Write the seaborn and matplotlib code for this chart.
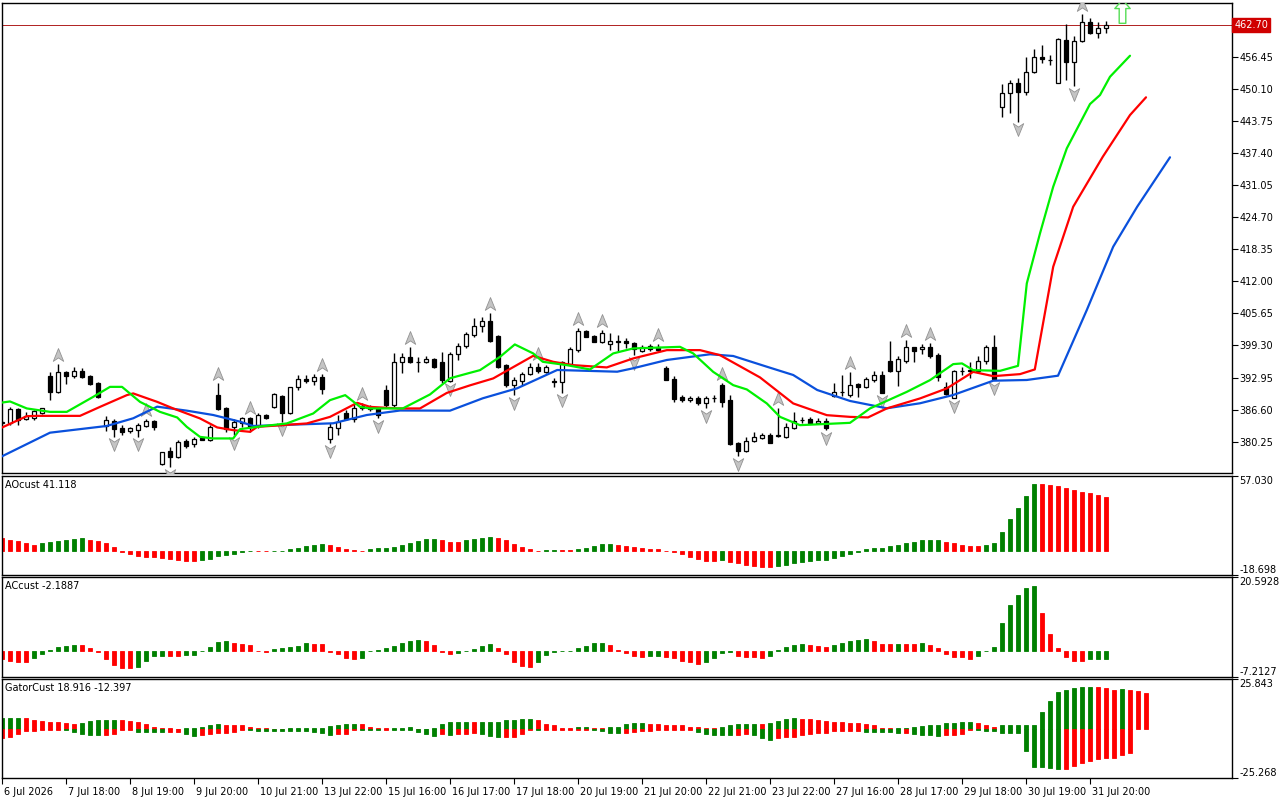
import numpy as np
import matplotlib
matplotlib.use("Agg")
import matplotlib.pyplot as plt
import matplotlib.transforms as mtransforms
from matplotlib.path import Path
import seaborn as sns

# ---- candles (bar -1 .. 137): open, high, low, close ----
opens = [384.00, 383.97, 386.63, 384.65, 384.85, 385.95, 393.22, 390.11, 394.07, 393.28,
         394.21, 393.22, 391.90, 383.32, 384.37, 382.99, 382.27, 382.53, 383.38, 384.31,
         375.74, 378.37, 377.12, 380.35, 379.70, 381.00, 380.55, 389.46, 386.83, 383.06,
         383.97, 384.85, 383.32, 385.50, 387.02, 389.32, 385.84, 390.98, 392.57, 392.29,
         392.96, 380.69, 382.87, 385.84, 384.71, 387.28, 386.63, 386.83, 390.45, 387.48,
         396.05, 397.04, 395.98, 396.05, 396.53, 396.05, 392.29, 397.58, 399.16, 401.34,
         403.12, 404.11, 401.14, 395.40, 391.44, 392.29, 393.56, 394.94, 394.07, 392.10,
         392.09, 395.60, 398.37, 402.13, 401.14, 400.01, 399.50, 400.05, 400.21, 399.70,
         398.23, 399.16, 399.02, 394.75, 392.63, 389.00, 388.47, 388.93, 387.82, 388.80,
         391.44, 388.47, 380.02, 378.43, 380.41, 380.89, 381.54, 381.40, 381.08, 382.87,
         384.50, 384.65, 383.97, 384.37, 389.26, 390.00, 389.46, 391.64, 391.10, 392.43,
         393.42, 396.25, 394.27, 396.26, 398.93, 398.51, 398.93, 397.38, 391.10, 388.99,
         394.25, 394.28, 394.27, 396.25, 399.02, 446.54, 449.20, 451.30, 449.40, 453.36,
         456.44, 455.80, 451.18, 459.75, 455.45, 459.61, 463.37, 461.20, 462.07]
highs = [384.30, 387.14, 386.95, 386.15, 386.49, 387.00, 394.07, 395.60, 394.21, 394.95,
         394.74, 393.42, 392.10, 385.30, 384.65, 383.52, 383.18, 383.86, 384.71, 384.51,
         378.24, 379.22, 380.55, 380.75, 381.20, 381.20, 383.52, 391.78, 387.14, 384.71,
         385.18, 385.18, 385.84, 385.70, 389.80, 389.46, 391.10, 393.42, 393.42, 393.62,
         393.62, 383.86, 385.50, 386.49, 387.82, 387.82, 387.48, 387.14, 391.44, 397.71,
         397.83, 398.90, 397.04, 397.18, 396.73, 398.03, 397.91, 399.70, 402.00, 404.65,
         404.84, 405.76, 401.34, 395.60, 392.96, 394.07, 395.74, 395.74, 395.40, 392.77,
         396.25, 398.90, 402.67, 402.33, 401.34, 402.33, 401.68, 401.34, 400.69, 400.01,
         399.36, 399.56, 399.56, 395.20, 393.22, 389.46, 389.26, 389.26, 389.26, 389.46,
         391.78, 389.46, 380.21, 381.20, 382.19, 381.99, 381.88, 386.83, 383.86, 386.15,
         385.18, 385.05, 384.85, 384.85, 391.78, 393.42, 394.07, 391.90, 393.08, 394.27,
         394.27, 400.24, 397.18, 400.38, 399.05, 399.56, 399.70, 397.71, 392.09, 394.41,
         395.06, 396.05, 397.18, 399.36, 401.34, 451.04, 451.83, 452.17, 456.44, 457.91,
         458.76, 456.78, 460.09, 462.92, 460.54, 464.90, 464.05, 463.37, 463.57]
lows = [383.70, 383.52, 383.52, 384.51, 384.51, 385.80, 388.47, 389.80, 391.58, 392.77,
        392.77, 391.44, 388.92, 382.39, 381.20, 381.54, 381.88, 381.20, 383.18, 382.53,
        375.60, 375.14, 376.93, 378.91, 379.22, 380.55, 380.42, 386.49, 382.19, 381.54,
        383.18, 382.19, 382.99, 384.71, 386.83, 384.17, 385.64, 390.45, 391.78, 391.44,
        389.66, 379.90, 381.54, 384.51, 384.17, 386.49, 386.29, 384.85, 387.14, 387.14,
        393.76, 395.74, 394.07, 395.86, 394.75, 391.78, 392.09, 396.39, 398.71, 401.00,
        402.00, 400.01, 394.75, 391.10, 389.46, 391.44, 393.42, 393.76, 393.88, 390.98,
        389.92, 395.40, 398.03, 400.89, 400.00, 399.82, 398.37, 398.03, 398.71, 397.38,
        398.03, 398.23, 398.03, 392.43, 388.13, 388.13, 388.13, 387.48, 386.83, 388.13,
        387.14, 379.56, 377.38, 378.23, 380.21, 380.69, 380.02, 381.08, 380.89, 382.67,
        383.86, 383.86, 383.86, 382.53, 389.12, 389.26, 389.12, 389.12, 390.79, 392.09,
        389.80, 394.07, 391.25, 395.86, 396.05, 397.58, 396.91, 392.29, 389.46, 388.81,
        393.42, 392.77, 393.88, 395.60, 392.43, 444.45, 445.24, 443.57, 448.86, 453.16,
        455.26, 454.80, 451.18, 451.83, 450.64, 459.41, 460.94, 460.09, 461.08]
closes = [384.05, 386.63, 384.51, 385.30, 386.29, 386.83, 390.11, 393.95, 393.28, 394.15,
          393.08, 391.64, 389.12, 384.51, 382.67, 382.19, 382.93, 383.52, 384.31, 383.18,
          378.12, 377.12, 380.09, 379.42, 380.75, 380.61, 383.18, 386.69, 382.67, 384.17,
          384.85, 383.18, 385.50, 384.85, 389.60, 385.84, 390.98, 392.57, 392.23, 392.96,
          390.59, 383.06, 384.17, 384.71, 386.83, 386.83, 387.14, 385.50, 387.48, 396.05,
          397.04, 395.93, 396.05, 396.53, 395.06, 392.43, 397.58, 399.16, 401.48, 403.12,
          404.11, 400.15, 394.94, 391.44, 392.43, 393.56, 394.94, 394.21, 394.94, 392.09,
          396.05, 398.51, 402.13, 401.00, 400.01, 401.80, 400.15, 400.01, 399.70, 398.57,
          399.02, 398.51, 398.37, 392.43, 388.67, 388.47, 388.93, 387.82, 388.81, 388.81,
          388.13, 379.76, 378.43, 380.41, 381.08, 381.54, 380.02, 381.41, 383.06, 384.31,
          384.51, 383.97, 384.37, 382.87, 389.99, 390.02, 391.44, 391.10, 392.57, 393.42,
          389.92, 394.27, 396.53, 398.93, 398.26, 398.93, 397.18, 392.96, 389.66, 394.27,
          394.27, 394.27, 396.25, 399.02, 392.57, 449.20, 451.30, 449.40, 453.36, 456.32,
          455.93, 455.79, 459.89, 455.45, 459.61, 463.37, 461.20, 462.07, 462.70]
first_bar = -1
bars = np.arange(first_bar, first_bar + len(opens))

# ---- Alligator lines: (bar, price) knots ----
jaw_bar = [-1.25, 5.0, 12.1, 15.4, 18.4, 22.1, 25.4, 28.75, 30.4, 40.4, 44.6, 48.75, 55.0,
           59.1, 63.4, 68.4, 75.9, 77.9, 82.1, 87.5, 90.4, 94.6, 97.9, 100.9, 105.0, 109.6,
           113.75, 117.9, 122.9, 127.1, 131.0, 134.6, 137.9, 140.9, 145.0]
jaw_val = [377.16, 382.03, 383.36, 384.88, 387.18, 386.39, 385.53, 384.21, 383.36, 383.89,
           385.53, 386.42, 386.39, 388.84, 390.82, 394.44, 394.10, 394.78, 396.42, 397.55,
           397.21, 395.09, 393.45, 390.48, 388.31, 386.86, 387.85, 389.49, 392.32, 392.46,
           393.31, 406.31, 418.84, 426.76, 436.54]
teeth_bar = [-1.25, 2.1, 3.4, 8.75, 11.25, 14.6, 15.4, 18.4, 20.4, 23.75, 25.9, 27.9, 30.0,
             30.9, 37.1, 40.0, 43.4, 45.0, 48.4, 51.25, 54.6, 57.5, 60.4, 65.4, 67.9, 70.4,
             74.6, 77.9, 82.1, 86.25, 88.75, 93.75, 97.9, 102.1, 105.0, 107.25, 109.6, 113.75,
             117.1, 120.4, 122.9, 126.25, 128.1, 130.4, 132.9, 136.6, 140.0, 142.0]
teeth_val = [382.87, 385.30, 385.36, 385.36, 387.14, 389.46, 389.80, 388.13, 386.83, 384.85,
             383.07, 382.53, 382.20, 383.18, 383.86, 385.16, 387.94, 387.14, 386.83, 386.83,
             389.90, 391.40, 392.77, 397.24, 396.06, 395.40, 394.95, 396.73, 398.37, 398.37,
             397.38, 392.97, 387.82, 385.50, 385.16, 385.05, 386.83, 388.81, 390.79, 394.07,
             393.22, 393.62, 394.55, 414.87, 426.75, 436.65, 444.90, 448.41]
lips_bar = [-1.25, 0.0, 2.1, 5.0, 7.1, 10.4, 12.5, 14.0, 16.25, 18.75, 20.9, 22.1, 23.75, 25.4,
            27.9, 28.75, 31.6, 34.6, 37.9, 40.0, 41.9, 43.75, 45.0, 49.1, 52.5, 55.0, 57.5,
            58.75, 61.25, 63.1, 65.4, 66.6, 69.6, 72.5, 75.4, 77.9, 83.75, 85.4, 87.9, 90.4,
            92.1, 94.6, 96.25, 98.75, 105.0, 107.5, 112.1, 115.0, 117.9, 119.0, 120.4, 123.75,
            126.0, 127.1, 128.75, 130.4, 132.1, 135.0, 136.25, 137.5, 140.0]
lips_val = [387.94, 388.21, 386.83, 386.15, 386.15, 389.12, 391.10, 391.10, 388.13, 386.15,
            385.04, 383.18, 381.20, 380.89, 380.89, 382.73, 383.32, 383.86, 385.83, 388.47,
            389.46, 387.14, 386.83, 386.83, 389.60, 392.80, 393.88, 394.41, 397.04, 399.50,
            397.72, 396.06, 395.40, 394.55, 397.72, 398.71, 399.02, 397.72, 394.07, 391.44,
            390.59, 387.82, 385.16, 383.52, 383.98, 386.83, 390.11, 392.43, 395.60, 395.74,
            394.41, 394.27, 395.26, 411.58, 421.48, 430.71, 438.31, 447.08, 448.86, 452.48,
            456.64]

# ---- Fractals ----
fractal_up = [6, 17, 26, 30, 39, 44, 50, 60, 66, 71, 74, 81, 89, 96, 105, 112, 115, 134]
fractal_down = [13, 16, 20, 28, 34, 40, 46, 55, 63, 69, 78, 87, 91, 102, 109, 118, 123, 126, 133]
signal_bar = 139
signal_price = 465.5
last_price = 462.70

# ---- AO / AC (bar -1 .. 137) ----
ao = [9.5, 8.2, 7.0, 5.4, 4.6, 5.4, 6.2, 7.0, 8.0, 8.8, 9.3, 8.2, 7.5, 5.4, 3.1, -0.8, -2.3,
      -4.1, -4.9, -5.0, -5.7, -6.2, -7.2, -7.9, -8.1, -7.2, -6.2, -4.4, -3.4, -2.3, -0.8, -0.5,
      -0.6, -0.7, -0.5, -0.3, 1.3, 2.1, 3.6, 4.4, 5.2, 4.4, 3.1, 1.5, 0.5, -0.5, 1.5, 1.6, 2.1,
      3.1, 4.1, 5.9, 7.5, 8.5, 8.6, 8.2, 6.7, 6.6, 7.7, 8.8, 9.5, 10.6, 9.8, 8.2, 5.2, 3.1, 1.3,
      -0.6, 0.4, 0.5, 0.4, 0.3, 1.3, 2.1, 3.6, 4.9, 5.0, 4.1, 3.6, 2.8, 2.1, 1.3, 1.2, -0.4,
      -1.3, -2.8, -4.6, -6.7, -7.7, -7.8, -7.6, -8.8, -9.5, -11.1, -11.6, -12.4, -12.5, -11.6,
      -10.8, -9.5, -8.8, -7.7, -7.0, -6.9, -5.4, -3.9, -2.3, -0.8, 1.3, 2.1, 2.2, 3.6, 4.4, 5.9,
      6.7, 8.2, 8.3, 8.4, 6.7, 5.9, 4.4, 3.6, 3.5, 4.4, 5.9, 14.4, 24.0, 32.2, 41.5, 50.7, 50.6,
      50.0, 49.2, 48.2, 46.4, 44.8, 44.0, 42.5, 41.118]
ac = [-2.2, -2.8, -3.0, -3.1, -1.9, -0.8, 0.3, 1.1, 1.4, 1.7, 1.6, 0.7, -0.4, -2.3, -4.0, -4.7,
      -4.8, -4.4, -2.7, -1.4, -1.3, -1.4, -1.5, -1.2, -1.1, -0.1, 1.1, 2.6, 2.8, 2.2, 1.9, 1.7,
      -0.1, -0.2, 0.6, 0.7, 1.0, 1.3, 2.2, 2.0, 1.9, -0.2, -1.0, -2.1, -2.2, -1.9, 0.1, 0.2, 0.7,
      1.3, 2.2, 2.8, 3.1, 2.8, 1.7, -0.2, -0.8, -0.7, 0.05, 0.6, 1.3, 1.9, 0.9, -0.8, -3.0, -4.2,
      -4.5, -3.2, -1.2, -0.4, -0.1, 0.1, 0.7, 1.4, 2.2, 2.3, 1.7, 0.2, -0.6, -1.4, -1.6, -1.4,
      -1.3, -1.7, -2.1, -2.7, -3.2, -3.6, -3.0, -1.9, -0.6, -0.3, -1.4, -1.7, -1.8, -1.9, -1.3,
      0.2, 1.1, 1.7, 2.0, 1.7, 1.4, 1.1, 1.7, 2.2, 2.9, 3.1, 3.4, 2.8, 2.0, 1.9, 2.05, 2.0, 1.95,
      2.2, 1.7, 0.8, -0.8, -1.7, -1.75, -2.2, -1.4, 0.1, 1.1, 7.8, 12.8, 15.6, 17.6, 18.1, 10.6,
      4.7, 0.8, -1.7, -2.7, -2.75, -2.4, -2.35, -2.1887]

# ---- Gator: upper |jaw-teeth| (bar -1 .. 142), lower |teeth-lips| (bar -1 .. 140) ----
gator_up = [6.0, 6.05, 6.1, 6.0, 5.0, 4.1, 3.6, 3.55, 3.1, 3.0, 3.1, 4.1, 4.6, 4.65, 4.7, 4.6,
            4.1, 3.6, 2.6, 1.4, 0.5, 0.45, 0.4, 0.5, 0.9, 1.4, 2.1, 2.6, 2.5, 2.1, 2.0, 1.4, 0.5,
            0.45, 0.4, 0.35, 0.5, 0.55, 0.6, 0.65, 0.9, 1.7, 2.1, 2.6, 3.0, 2.9, 1.4, 0.5, 0.45,
            0.5, 0.9, 1.0, 0.3, 0.4, 0.5, 2.6, 3.6, 3.65, 3.7, 3.6, 3.65, 3.7, 3.75, 4.6, 4.65,
            5.2, 5.25, 4.6, 2.6, 2.1, 0.9, 0.8, 1.4, 1.45, 0.9, 0.5, 1.4, 1.45, 2.6, 3.1, 3.15,
            2.6, 2.55, 2.5, 2.1, 2.05, 1.4, 1.35, 0.9, 0.5, 1.4, 2.1, 2.6, 2.65, 2.7, 2.6, 3.3,
            4.1, 5.2, 5.7, 5.2, 5.15, 4.6, 4.1, 3.6, 3.55, 3.1, 3.05, 3.0, 2.1, 0.9, 0.5, 0.9,
            0.95, 1.4, 1.7, 2.1, 2.15, 3.1, 3.15, 3.6, 3.65, 3.1, 2.1, 1.4, 2.1, 2.12, 2.15, 2.2,
            2.25, 8.8, 14.5, 19.1, 20.1, 21.2, 21.9, 22.0, 21.9, 21.2, 20.1, 20.6, 20.1, 20.0,
            18.916]
gator_down = [4.3, 4.1, 2.2, 1.0, 0.9, 0.5, 0.45, 0.4, 0.5, 1.5, 2.4, 2.8, 2.9, 2.85, 2.4, 0.5,
              0.45, 1.2, 1.5, 1.55, 1.6, 1.5, 1.2, 2.6, 3.4, 2.9, 2.4, 1.9, 1.85, 1.2, 0.5, 0.55,
              0.6, 0.65, 0.7, 0.75, 0.9, 0.95, 1.0, 1.2, 2.0, 2.9, 2.4, 2.3, 0.2, 0.3, 0.35, 0.4,
              0.3, 0.35, 0.4, 0.45, 1.2, 2.6, 3.6, 2.6, 2.9, 2.6, 2.5, 1.9, 2.6, 3.6, 4.1, 4.0,
              3.9, 2.6, 0.2, 0.3, 0.2, 0.15, 0.1, 0.1, 0.1, 0.1, 0.2, 0.9, 1.9, 1.95, 1.9, 1.2,
              1.1, 0.9, 0.1, 0.1, 0.1, 0.1, 0.1, 1.2, 2.2, 2.9, 2.95, 3.0, 2.9, 2.2, 2.9, 4.3,
              5.5, 4.5, 4.1, 4.05, 2.9, 2.2, 1.7, 1.65, 1.0, 0.95, 0.9, 0.85, 1.4, 1.45, 1.5,
              1.55, 1.9, 1.85, 2.4, 2.9, 2.95, 3.4, 2.9, 2.85, 2.2, 0.2, 0.5, 0.9, 0.95, 1.7,
              1.72, 1.75, 11.2, 19.4, 19.5, 19.8, 20.7, 20.5, 19.1, 17.4, 16.4, 15.5, 15.0,
              14.9, 13.4, 12.397]

price_ticks = [380.25, 386.60, 392.95, 399.30, 405.65, 412.00, 418.35, 424.70, 431.05,
               437.40, 443.75, 450.10, 456.45]
price_range = (374.05, 467.08)
ao_range = (-18.698, 57.030)
ac_range = (-7.2127, 20.5928)
gator_range = (-25.268, 25.843)

time_labels = ["6 Jul 2026", "7 Jul 18:00", "8 Jul 19:00", "9 Jul 20:00", "10 Jul 21:00",
               "13 Jul 22:00", "15 Jul 16:00", "16 Jul 17:00", "17 Jul 18:00", "20 Jul 19:00",
               "21 Jul 20:00", "22 Jul 21:00", "23 Jul 22:00", "27 Jul 16:00", "28 Jul 17:00",
               "29 Jul 18:00", "30 Jul 19:00", "31 Jul 20:00"]
time_label_bars = [-1, 7, 15, 23, 31, 39, 47, 55, 63, 71, 79, 87, 95, 103, 111, 119, 127, 135]

# ---- style ----
sns.set_theme(style="white")
plt.rcParams["font.family"] = ["DejaVu Sans"]
plt.rcParams["font.size"] = 7

GREEN = "#008000"
RED = "#ff0000"
xlim = (-1.0, 152.75)

fig = plt.figure(figsize=(12.8, 8), dpi=100)
W = 1280.0
H = 800.0


def panel(top_px, bottom_px):
    ax = fig.add_axes([2 / W, 1 - bottom_px / H, 1230 / W, (bottom_px - top_px) / H])
    ax.set_xlim(*xlim)
    for s in ax.spines.values():
        s.set_color("black")
        s.set_linewidth(1.0)
    ax.yaxis.tick_right()
    ax.tick_params(axis="y", direction="out", length=4, width=0.8, pad=1.5,
                   colors="black", labelsize=7, right=True, left=False)
    ax.set_xticks([])
    ax.set_facecolor("white")
    return ax


ax = panel(3, 473)
ax_ao = panel(476, 575)
ax_ac = panel(577.3, 676.7)
ax_g = panel(679.3, 778.3)

# ---- main panel: candles ----
o = np.array(opens)
h = np.array(highs)
lo = np.array(lows)
c = np.array(closes)
bull = c >= o
ax.vlines(bars, lo, h, color="black", lw=1.0, zorder=2)
body_bottom = np.minimum(o, c)
body_h = np.maximum(np.abs(c - o), 0.08)
ax.bar(bars, body_h, bottom=body_bottom, width=0.62,
       color=np.where(bull, "white", "black"), edgecolor="black", linewidth=0.9, zorder=2.5)

# fractals
up_marker = Path([(0, 1), (0.75, -0.85), (0, -0.35), (-0.75, -0.85), (0, 1)],
                 [Path.MOVETO, Path.LINETO, Path.LINETO, Path.LINETO, Path.CLOSEPOLY])
down_marker = Path([(0, -1), (0.75, 0.85), (0, 0.35), (-0.75, 0.85), (0, -1)],
                   [Path.MOVETO, Path.LINETO, Path.LINETO, Path.LINETO, Path.CLOSEPOLY])
up_idx = np.array(fractal_up) - first_bar
dn_idx = np.array(fractal_down) - first_bar
ax.plot(fractal_up, h[up_idx] + 1.8, ls="none", marker=up_marker, ms=10,
        mfc="#c4c4c4", mec="#929292", mew=0.6, zorder=3)
ax.plot(fractal_down, lo[dn_idx] - 1.5, ls="none", marker=down_marker, ms=10,
        mfc="#c4c4c4", mec="#929292", mew=0.6, zorder=3)

# alligator
sns.lineplot(x=jaw_bar, y=jaw_val, ax=ax, color="#0a50dc", lw=1.6, sort=False,
             estimator=None, zorder=4)
sns.lineplot(x=teeth_bar, y=teeth_val, ax=ax, color="#ff0000", lw=1.6, sort=False,
             estimator=None, zorder=4)
sns.lineplot(x=lips_bar, y=lips_val, ax=ax, color="#00f000", lw=1.6, sort=False,
             estimator=None, zorder=4)

# signal arrow (hollow green)
sig_marker = Path([(0, 1), (0.65, 0.25), (0.28, 0.25), (0.28, -1), (-0.28, -1),
                   (-0.28, 0.25), (-0.65, 0.25), (0, 1)],
                  [Path.MOVETO] + [Path.LINETO] * 6 + [Path.CLOSEPOLY])
ax.plot([signal_bar], [signal_price], ls="none", marker=sig_marker, ms=17,
        mfc="none", mec="#55dd55", mew=1.0, zorder=5)

# last price line + label
ax.axhline(last_price, color="#b02020", lw=0.7, zorder=1)
trans = mtransforms.blended_transform_factory(ax.transAxes, ax.transData)
ax.text(1.0017, last_price, f"{last_price:.2f}", transform=trans, ha="left", va="center",
        color="white", fontsize=7,
        bbox=dict(boxstyle="square,pad=0.18", facecolor="#d00000", edgecolor="#d00000"))

ax.set_ylim(*price_range)
ax.set_yticks(price_ticks)
ax.set_yticklabels([f"{t:.2f}" for t in price_ticks])


# ---- histogram panels ----
def rising_colors(vals, first):
    cols = [first]
    for i in range(1, len(vals)):
        cols.append(GREEN if vals[i] > vals[i - 1] else RED)
    return cols


def hist(a, x, vals, cols):
    # thin edge in the bar colour keeps the near-zero bars visible as dashes
    a.bar(x, vals, width=0.48, color=cols, edgecolor=cols, linewidth=0.6)


def set_edge_ticks(a, rng, fmt):
    a.set_ylim(*rng)
    a.set_yticks([rng[0], rng[1]])
    a.set_yticklabels([fmt.format(rng[0]), fmt.format(rng[1])])
    labels = a.get_yticklabels()
    labels[0].set_va("bottom")
    labels[1].set_va("top")


ao_bars = np.arange(first_bar, first_bar + len(ao))
hist(ax_ao, ao_bars, ao, rising_colors(ao, RED))
set_edge_ticks(ax_ao, ao_range, "{:.3f}")
ax_ao.text(0.0025, 0.96, f"AOcust {ao[-1]:.3f}", transform=ax_ao.transAxes,
           ha="left", va="top", fontsize=7, color="black")

ac_bars = np.arange(first_bar, first_bar + len(ac))
hist(ax_ac, ac_bars, ac, rising_colors(ac, RED))
set_edge_ticks(ax_ac, ac_range, "{:.4f}")
ax_ac.text(0.0025, 0.96, f"ACcust {ac[-1]:.4f}", transform=ax_ac.transAxes,
           ha="left", va="top", fontsize=7, color="black")

gu_bars = np.arange(first_bar, first_bar + len(gator_up))
gd_bars = np.arange(first_bar, first_bar + len(gator_down))
hist(ax_g, gu_bars, gator_up, rising_colors(gator_up, GREEN))
hist(ax_g, gd_bars, -np.array(gator_down), rising_colors(gator_down, RED))
set_edge_ticks(ax_g, gator_range, "{:.3f}")
ax_g.text(0.0025, 0.96, f"GatorCust {gator_up[-1]:.3f} {-gator_down[-1]:.3f}",
          transform=ax_g.transAxes, ha="left", va="top", fontsize=7, color="black")

# time axis under the last panel
ax_g.set_xticks(time_label_bars)
ax_g.set_xticklabels(time_labels)
ax_g.tick_params(axis="x", direction="out", length=4, width=0.8, pad=2, labelsize=7,
                 colors="black", bottom=True)
shift = mtransforms.ScaledTranslation(1.5 / 72, 0, fig.dpi_scale_trans)
for lbl in ax_g.get_xticklabels():
    lbl.set_ha("left")
    lbl.set_transform(lbl.get_transform() + shift)
ax_g.set_xlim(*xlim)

fig.savefig("out.png", dpi=100, facecolor="white")
